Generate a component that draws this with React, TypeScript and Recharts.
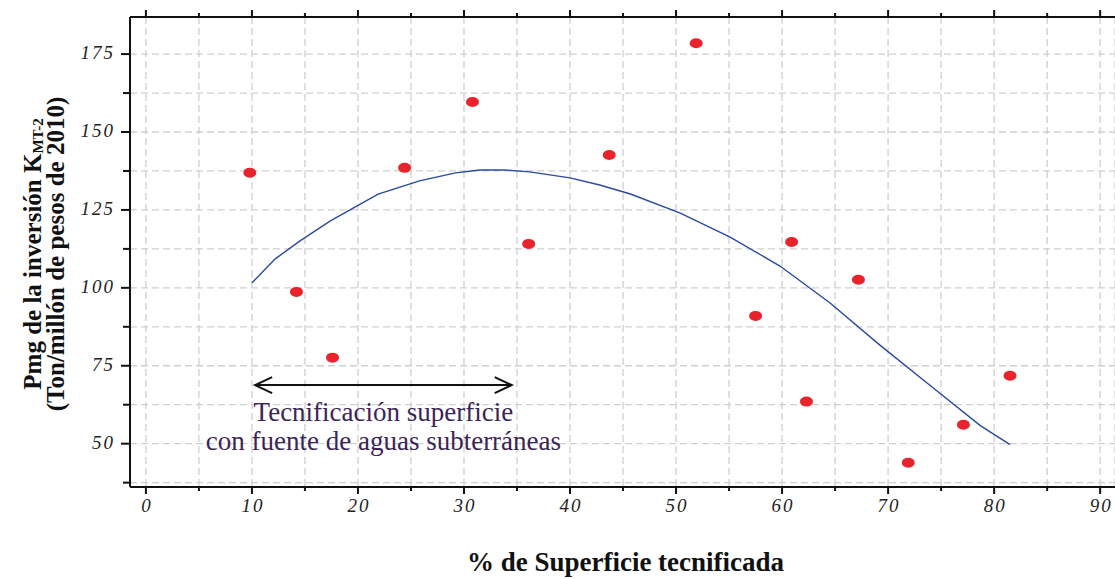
import { ScatterChart, Scatter, XAxis, YAxis, CartesianGrid, ReferenceLine } from 'recharts'

// observed points (% superficie tecnificada, Pmg)
const obsX = [9.8, 14.2, 17.6, 24.4, 30.8, 36.1, 43.7, 51.9, 57.5, 60.9, 62.3, 67.2, 71.9, 77.1, 81.5]
const obsY = [136.9, 98.7, 77.6, 138.5, 159.6, 114.1, 142.6, 178.5, 91, 114.7, 63.5, 102.6, 43.9, 56.1, 71.8]

// fitted curve
const fitX = [10, 12.2, 14.5, 17.4, 21.9, 25.8, 29.2, 31.5, 33.9, 36.2, 40, 42.8, 45.7, 50.4, 55.1, 59.8, 64.5, 69.2, 74, 78.7, 81.5]
const fitY = [101.6, 109.3, 115, 121.5, 130.1, 134.3, 136.9, 137.8, 137.8, 137.2, 135.3, 133, 130.1, 124, 116.3, 107, 95.2, 81.7, 68.6, 55.8, 49.7]

const xTicks = [0, 5, 10, 15, 20, 25, 30, 35, 40, 45, 50, 55, 60, 65, 70, 75, 80, 85, 90]
const yTicks = [37.5, 50, 62.5, 75, 87.5, 100, 112.5, 125, 137.5, 150, 162.5, 175]

const arrowFrom = 10.3
const arrowTo = 34.5
const arrowY = 68.8
const noteLines = ['Tecnificación superficie', 'con fuente de aguas subterráneas']

const X_DOMAIN = [-1.5, 91.4]
const Y_DOMAIN = [36.1, 186.9]

const observed = obsX.map((x, i) => ({ x, y: obsY[i] }))
const fitted = fitX.map((x, i) => ({ x, y: fitY[i] }))

const serif = '"Liberation Serif", "Times New Roman", serif'
const axisLine = { stroke: '#111', strokeWidth: 2 }

const BottomTick = (props: any) => {
  const { x, y, payload } = props
  const major = payload.value % 10 === 0
  return (
    <g>
      <line x1={x} x2={x} y1={y} y2={y + (major ? 7 : 4)} stroke="#111" strokeWidth={2} />
      {major && (
        <text x={x + 1} y={y + 25} textAnchor="middle" fontFamily={serif} fontStyle="italic" fontSize={19} letterSpacing={2} fill="#222">
          {payload.value}
        </text>
      )}
    </g>
  )
}

const TopTick = (props: any) => {
  const { x, y, payload } = props
  const major = payload.value % 10 === 0
  return <line x1={x} x2={x} y1={y} y2={y - (major ? 7 : 4)} stroke="#111" strokeWidth={2} />
}

const LeftTick = (props: any) => {
  const { x, y, payload } = props
  const major = payload.value % 25 === 0
  return (
    <g>
      <line x1={x} x2={x - (major ? 9 : 7)} y1={y} y2={y} stroke="#111" strokeWidth={2} />
      {major && (
        <text x={x - 15} y={y + 5} textAnchor="end" fontFamily={serif} fontStyle="italic" fontSize={19} letterSpacing={2} fill="#222">
          {payload.value}
        </text>
      )}
    </g>
  )
}

const YTitle = (props: any) => {
  const { viewBox } = props
  const cy = viewBox.y + viewBox.height / 2 + 2
  return (
    <g fontFamily={serif} fontWeight="bold" fontSize={25} fill="#111">
      <text transform={`translate(41, ${cy}) rotate(-90)`} textAnchor="middle">
        Pmg de la inversión K
        <tspan fontSize={15} dy={2}>MT-2</tspan>
      </text>
      <text transform={`translate(64, ${cy}) rotate(-90)`} textAnchor="middle">
        (Ton/millón de pesos de 2010)
      </text>
    </g>
  )
}

const XTitle = (props: any) => {
  const { viewBox } = props
  return (
    <text x={viewBox.x + viewBox.width / 2 + 3} y={viewBox.y + 84} textAnchor="middle" fontFamily={serif} fontWeight="bold" fontSize={27} fill="#111">
      % de Superficie tecnificada
    </text>
  )
}

const ArrowNote = (props: any) => {
  const { x1, y1, x2, y2 } = props
  const cx = (x1 + x2) / 2
  return (
    <g>
      <line x1={x1} y1={y1} x2={x2} y2={y2} stroke="#111" strokeWidth={2} />
      <polyline points={`${x1 + 17},${y1 - 8} ${x1},${y1} ${x1 + 17},${y1 + 8}`} fill="none" stroke="#111" strokeWidth={2} />
      <polyline points={`${x2 - 17},${y2 - 8} ${x2},${y2} ${x2 - 17},${y2 + 8}`} fill="none" stroke="#111" strokeWidth={2} />
      <g fontFamily={serif} fontSize={27} fill="#3b2556" textAnchor="middle">
        <text x={cx} y={y1 + 36}>{noteLines[0]}</text>
        <text x={cx} y={y1 + 65}>{noteLines[1]}</text>
      </g>
    </g>
  )
}

const Dot = (props: any) => <ellipse cx={props.cx} cy={props.cy} rx={6.5} ry={5} fill="#e8232b" />
const NoDot = () => <g />

export default function App() {
  return (
    <div style={{ position: 'absolute', left: 0, top: 0, width: 1115, height: 579, background: '#fff' }}>
      <ScatterChart width={1115} height={579} margin={{ top: 0, right: 0, bottom: 0, left: 0 }}>
        <CartesianGrid stroke="#cfcfcf" strokeDasharray="7 4" strokeWidth={1.3} />
        <XAxis
          type="number"
          dataKey="x"
          domain={X_DOMAIN}
          ticks={xTicks}
          allowDataOverflow
          height={92}
          axisLine={axisLine}
          tickLine={false}
          tickSize={0}
          tickMargin={0}
          tick={<BottomTick />}
          interval={0}
          label={<XTitle />}
        />
        <XAxis
          xAxisId="top"
          orientation="top"
          type="number"
          dataKey="x"
          domain={X_DOMAIN}
          ticks={xTicks}
          allowDataOverflow
          height={17}
          axisLine={axisLine}
          tickLine={false}
          tickSize={0}
          tickMargin={0}
          tick={<TopTick />}
          interval={0}
        />
        <YAxis
          type="number"
          dataKey="y"
          domain={Y_DOMAIN}
          ticks={yTicks}
          allowDataOverflow
          width={130}
          axisLine={axisLine}
          tickLine={false}
          tickSize={0}
          tickMargin={0}
          tick={<LeftTick />}
          interval={0}
          label={<YTitle />}
        />
        <Scatter data={fitted} line={{ stroke: '#2a4aa0', strokeWidth: 1.4 }} lineType="joint" shape={<NoDot />} isAnimationActive={false} />
        <Scatter data={observed} shape={<Dot />} isAnimationActive={false} />
        <Scatter xAxisId="top" data={[]} shape={<NoDot />} isAnimationActive={false} />
        <ReferenceLine
          segment={[{ x: arrowFrom, y: arrowY }, { x: arrowTo, y: arrowY }]}
          shape={<ArrowNote />}
          ifOverflow="visible"
        />
      </ScatterChart>
    </div>
  )
}
